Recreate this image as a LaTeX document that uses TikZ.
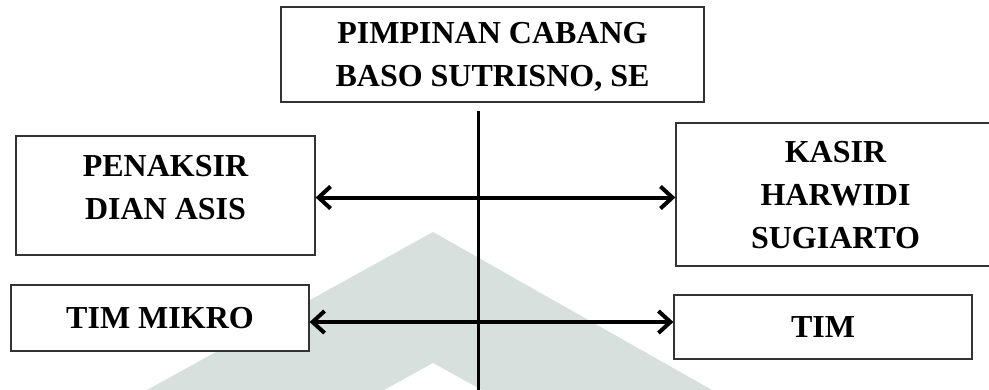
\documentclass[tikz,border=0pt]{standalone}
\usepackage{fontspec}
\setmainfont{Liberation Serif}
\usetikzlibrary{positioning,arrows.meta,calc}
\definecolor{wmgray}{RGB}{216,224,221}
\tikzset{
  orgbox/.style={draw=black!80,line width=0.6pt,fill=white,align=center,
    font=\fontsize{16}{21.5}\selectfont\bfseries,inner sep=0pt},
  link/.style={line width=2pt,{Straight Barb[length=6pt,width=11pt]}-{Straight Barb[length=6pt,width=11pt]}}
}

\begin{document}
\begin{tikzpicture}[x=0.5pt,y=-0.5pt]
  \useasboundingbox (0,0) rectangle (989,390);
  % watermark
  \fill[wmgray] (147,390) -- (433,232) -- (712,390) -- (482,390) -- (433,363) -- (384,390) -- cycle;
  % boxes
  \node[orgbox,minimum width=211.5pt,minimum height=47.5pt,text depth=-4pt] (pimpinan) at (492.5,54.5)
    {PIMPINAN CABANG\\BASO SUTRISNO, SE};
  \node[orgbox,minimum width=149.5pt,minimum height=59.5pt,text depth=8pt] (penaksir) at (165.5,195.5)
    {PENAKSIR\\DIAN ASIS};
  \node[orgbox,minimum width=159.5pt,minimum height=71.5pt,text depth=-4pt] (kasir) at (835.5,194.5)
    {KASIR\\HARWIDI\\SUGIARTO};
  \node[orgbox,minimum width=149pt,minimum height=33pt] (timmikro) at (160,318) {TIM MIKRO};
  \node[orgbox,minimum width=149pt,minimum height=32pt] (tim) at (823,327) {TIM};
  % lines
  \coordinate (bottom) at (478,390);
  \draw[line width=1.5pt] ([yshift=-4pt]pimpinan.south -| bottom) -- (bottom);
  \draw[link] ([yshift=-1pt]penaksir.east) -- ([yshift=-1pt]penaksir.east -| kasir.west);
  \draw[link] ([yshift=-2pt]timmikro.east) -- ([yshift=-2pt]timmikro.east -| tim.west);
\end{tikzpicture}
\end{document}
